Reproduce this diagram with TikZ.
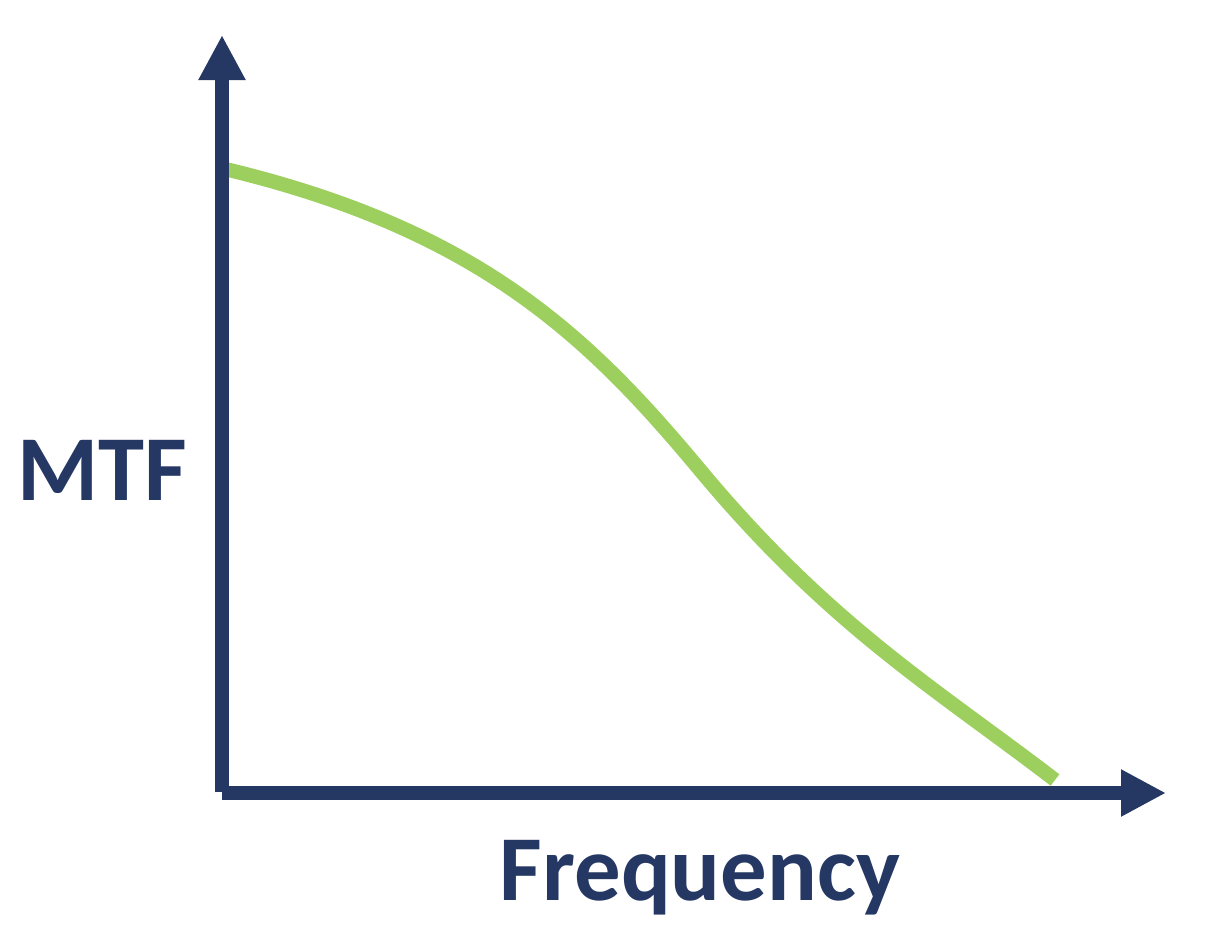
\documentclass[tikz,border=0pt]{standalone}
\usepackage{fontspec}
\setmainfont{Carlito}
\usetikzlibrary{arrows.meta}
\definecolor{axisblue}{HTML}{253763}
\definecolor{curvegreen}{HTML}{9DCF5F}

\begin{document}
\begin{tikzpicture}[x=0.025cm,y=-0.025cm,
        axis/.style = {draw=axisblue, line width=0.35cm, -{Triangle[length=1.125cm,width=1.1cm]}},
        curve/.style = {draw=curvegreen, line width=0.36cm},
        label/.style = {text=axisblue, font=\fontsize{66}{70}\selectfont\bfseries, inner sep=0pt, anchor=base}]
            \useasboundingbox (0,0) rectangle (1216,952);

            \coordinate (o)  at (222,793);
            \coordinate (yt) at (222,35);
            \coordinate (xt) at (1166,793);
            \coordinate (c0) at (225,169);
            \coordinate (c1) at (700,470);
            \coordinate (c2) at (1055,780);

            \node[label] (mtf)  at (102,500) {MTF};
            \node[label] (freq) at (700,900) {Frequency};

            \draw[curve] (c0) .. controls (480,230) and (590,338) .. (c1)
                              .. controls (830,626) and (935,688) .. (c2);

            \draw[axis] ([yshift=0.5]o) -- (yt);
            \draw[axis] (o) -- (xt);
        \end{tikzpicture}
\end{document}
